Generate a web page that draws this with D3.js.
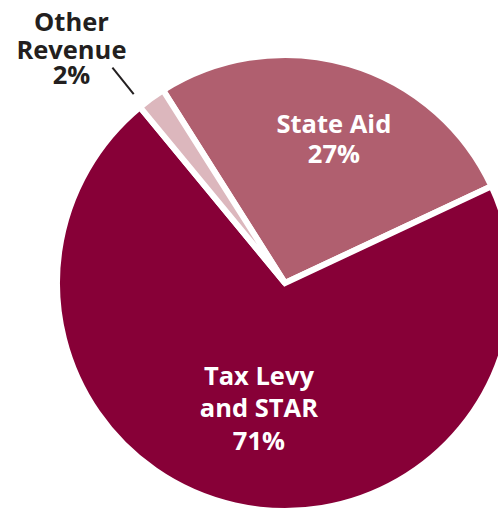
<!DOCTYPE html>
<html>
<head>
<meta charset="utf-8">
<script src="https://cdn.jsdelivr.net/npm/d3@7"></script>
<style>
  html, body { margin: 0; padding: 0; background: #fff; }
  svg { display: block; }
  text { font-family: "Open Sans", "DejaVu Sans", sans-serif; font-weight: 700; }
</style>
</head>
<body>
<svg id="chart" width="498" height="510"></svg>
<script>
const categories = ["State Aid", "Tax Levy and STAR", "Other Revenue"];
const values = [27, 71, 2];
const labelLines = [["State Aid", "27%"], ["Tax Levy", "and STAR", "71%"], ["Other", "Revenue", "2%"]];
const colors = ["#b05f6f", "#870037", "#dcb7bd"];

const W = 498, H = 510;
const cx = 285, cy = 283, R = 228;
const svg = d3.select("#chart");
const g = svg.append("g").attr("transform", `translate(${cx},${cy})`);

const start = -32.3 * Math.PI / 180;
const pie = d3.pie().sort(null).value(d => d)
  .startAngle(start).endAngle(start + 2 * Math.PI);
const arcs = pie(values);
const arc = d3.arc().innerRadius(0).outerRadius(R);

g.selectAll("path.slice").data(arcs).join("path")
  .attr("class", "slice")
  .attr("d", arc)
  .attr("fill", (d, i) => colors[i])
  .attr("stroke", "#fff")
  .attr("stroke-width", 6)
  .attr("stroke-linejoin", "miter");

// inside labels: radial position from the slice's mid angle
const labelPos = [
  { r: 0.63 * R, da: 3.6 * Math.PI / 180, lh: 30 },
  { r: 0.60 * R, da: -1.7 * Math.PI / 180, lh: 32.5 }
];
[0, 1].forEach(i => {
  const a = arcs[i];
  const mid = (a.startAngle + a.endAngle) / 2 + labelPos[i].da;
  const rr = labelPos[i].r;
  const x = Math.sin(mid) * rr, y = -Math.cos(mid) * rr;
  const lines = labelLines[i];
  const lh = labelPos[i].lh;
  lines.forEach((l, k) => {
    g.append("text")
      .attr("text-anchor", "middle")
      .attr("fill", "#fff")
      .attr("font-size", 25.5)
      .attr("x", x)
      .attr("y", y + (k - (lines.length - 1) / 2) * lh)
      .text(l);
  });
});

// Other Revenue outside label with leader
const o = arcs[2];
const omid = (o.startAngle + o.endAngle) / 2 - 2.8 * Math.PI / 180;
const p1 = [Math.sin(omid) * (R + 14), -Math.cos(omid) * (R + 14)];
const p2 = [Math.sin(omid) * (R + 48), -Math.cos(omid) * (R + 48)];
g.append("line")
  .attr("x1", p1[0]).attr("y1", p1[1])
  .attr("x2", p2[0]).attr("y2", p2[1])
  .attr("stroke", "#231f20").attr("stroke-width", 2);

const ox = cx + p2[0] - 41;
const oBaselines = [31, 59, 84];
labelLines[2].forEach((l, k) => {
  svg.append("text")
    .attr("text-anchor", "middle")
    .attr("fill", "#231f20")
    .attr("font-size", 25.5)
    .attr("x", ox).attr("y", oBaselines[k])
    .text(l);
});
</script>
</body>
</html>
